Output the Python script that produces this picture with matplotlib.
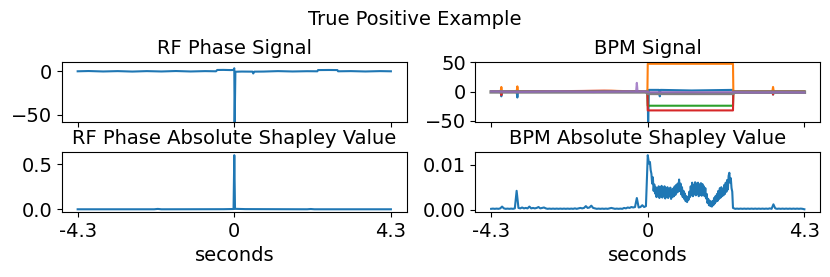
import matplotlib
matplotlib.use('Agg')
import matplotlib.pyplot as plt
import numpy as np

plt.rcParams['font.size'] = 14
plt.rcParams['axes.titlesize'] = 14

# x ticks shared by all panels
tick_pos = [-4.3, 0, 4.3]
tick_lab = ['-4.3', '0', '4.3']

# RF phase signal (breakpoints, seconds / degrees)
rf_t = [-4.3, -4.0, -3.6, -3.2, -2.8, -2.4, -2.0, -1.6, -1.2, -0.8, -0.5, -0.47, -0.3,
        -0.1, -0.02, 0.0, 0.01, 0.03, 0.2, 0.5, 0.52, 0.55, 0.8, 1.2, 1.6, 2.0, 2.28,
        2.3, 2.6, 2.83, 2.85, 3.2, 3.6, 4.0, 4.3]
rf_v = [0.0, 0.3, -0.2, 0.2, -0.3, 0.2, -0.2, 0.3, -0.2, 0.2, 0.0, 1.5, 1.6,
        1.4, 1.5, 3.5, -62.0, -0.5, -0.3, -0.4, -2.5, -0.4, -0.3, 0.2, -0.2, 0.1, 0.0,
        1.4, 1.5, 1.4, 0.0, 0.2, -0.2, 0.2, 0.0]

# RF phase absolute Shapley value
rfs_t = [-4.3, -2.2, -2.1, -2.0, -0.3, -0.02, 0.0, 0.02, 0.3, 2.0, 2.1, 2.2, 4.3]
rfs_v = [0.002, 0.002, 0.006, 0.002, 0.003, 0.005, 0.6, 0.007, 0.004, 0.002, 0.005, 0.002, 0.002]

# BPM signals (breakpoints)
bpm_blue_t = [-4.3, -4.04, -4.02, -4.0, -3.6, -3.58, -3.56, -1.5, -0.02, 0.0, 0.01, 0.03,
              0.31, 0.33, 0.35, 1.2, 2.34, 2.36, 3.42, 3.44, 3.46, 4.3]
bpm_blue_v = [0.0, 0.0, -8.0, 0.0, 0.0, -10.0, 0.0, 1.0, 0.0, 3.0, -62.0, 3.0,
              3.0, -8.0, 3.0, 2.0, 3.0, 0.0, 0.0, -5.0, 0.0, 0.0]
bpm_orange_t = [-4.3, -4.04, -4.02, -4.0, -3.6, -3.58, -3.56, -1.0, -0.01, 0.0, 2.34, 2.35,
                3.42, 3.44, 3.46, 4.3]
bpm_orange_v = [0.0, 0.0, 8.0, 0.0, 0.0, 9.0, 0.0, 1.5, 0.0, 47.5, 47.5, 0.0,
                0.0, 8.0, 0.0, 0.0]
bpm_green_t = [-4.3, -0.01, 0.0, 2.34, 2.35, 4.3]
bpm_green_v = [0.0, 0.0, -24.0, -24.0, 0.0, 0.0]
bpm_red_t = [-4.3, -4.04, -4.02, -4.0, -1.2, -0.01, 0.0, 2.34, 2.35, 3.42, 3.44, 3.46, 4.3]
bpm_red_v = [0.0, 0.0, -6.0, 0.0, 1.5, 0.0, -32.0, -32.0, 0.0, 0.0, -5.0, 0.0, 0.0]
bpm_purple_t = [-4.3, -3.5, -2.5, -1.5, -0.5, -0.32, -0.3, -0.28, -0.1, 0.05, 0.8, 1.6, 2.3,
                2.4, 3.0, 3.6, 4.3]
bpm_purple_v = [0.5, -0.5, 0.6, -0.6, 0.4, 0.0, 15.0, 0.0, 0.5, -1.0, -0.8, -1.0, -0.8,
                -1.0, -1.5, -1.0, -1.5]
bpm_gray_t = [-4.3, -2.0, -0.02, 0.0, 2.34, 2.36, 4.3]
bpm_gray_v = [-0.5, -0.5, -0.5, -3.0, -3.0, -1.0, -1.0]

# BPM absolute Shapley value
# before the event, every 0.05 s from -4.3 to -0.05
shap_pre = [
    0.0002, 0.00025, 0.0002, 0.00025, 0.0002, 0.0003, 0.0007, 0.0003, 0.0002, 0.00025,
    0.0002, 0.00025, 0.0002, 0.0003, 0.0042, 0.0004, 0.0003, 0.0005, 0.0003, 0.0004,
    0.0003, 0.0007, 0.0003, 0.0004, 0.0003, 0.0004, 0.0006, 0.0003, 0.0004, 0.0005,
    0.0003, 0.0002, 0.00025, 0.0002, 0.00025, 0.0002, 0.00025, 0.0002, 0.00025, 0.0002,
    0.00025, 0.0002, 0.00025, 0.0002, 0.00025, 0.0002, 0.0003, 0.0002, 0.0003, 0.0004,
    0.0003, 0.0004, 0.0008, 0.0004, 0.0005, 0.0009, 0.0004, 0.0003, 0.0002, 0.00025,
    0.0002, 0.00025, 0.0002, 0.00025, 0.0002, 0.0003, 0.0004, 0.0003, 0.0002, 0.00025,
    0.0002, 0.00025, 0.0002, 0.0004, 0.0003, 0.0005, 0.0004, 0.0006, 0.0005, 0.0006,
    0.0026, 0.0005, 0.0006, 0.0010, 0.0006, 0.0008,
]
# during the event, every 0.02 s from 0 to 2.34
shap_evt = [
    0.0121, 0.0110, 0.0102, 0.0106, 0.0088, 0.0080, 0.0058, 0.0072, 0.0042, 0.0056,
    0.0036, 0.0050, 0.0028, 0.0047, 0.0030, 0.0052, 0.0026, 0.0049, 0.0031, 0.0053,
    0.0027, 0.0045, 0.0030, 0.0052, 0.0025, 0.0048, 0.0029, 0.0050, 0.0026, 0.0046,
    0.0030, 0.0049, 0.0024, 0.0044, 0.0028, 0.0047, 0.0030, 0.0052, 0.0033, 0.0055,
    0.0038, 0.0058, 0.0040, 0.0067, 0.0042, 0.0058, 0.0034, 0.0050, 0.0028, 0.0042,
    0.0024, 0.0036, 0.0019, 0.0030, 0.0017, 0.0028, 0.0022, 0.0040, 0.0028, 0.0052,
    0.0032, 0.0060, 0.0030, 0.0055, 0.0034, 0.0061, 0.0032, 0.0058, 0.0035, 0.0060,
    0.0030, 0.0056, 0.0033, 0.0059, 0.0031, 0.0057, 0.0034, 0.0052, 0.0030, 0.0048,
    0.0025, 0.0035, 0.0015, 0.0024, 0.0010, 0.0020, 0.0008, 0.0018, 0.0007, 0.0019,
    0.0010, 0.0026, 0.0014, 0.0030, 0.0018, 0.0035, 0.0020, 0.0042, 0.0024, 0.0048,
    0.0027, 0.0050, 0.0030, 0.0046, 0.0032, 0.0055, 0.0035, 0.0060, 0.0040, 0.0066,
    0.0045, 0.0075, 0.0082, 0.0060, 0.0070, 0.0048, 0.0040, 0.0004,
]
# after the event, every 0.05 s from 2.4 to 4.3
shap_post = [
    0.0002, 0.00025, 0.0002, 0.00025, 0.0002, 0.00025, 0.0002, 0.00025, 0.0002, 0.00025,
    0.0002, 0.00025, 0.0002, 0.00025, 0.0002, 0.00025, 0.0002, 0.00025, 0.0002, 0.0003,
    0.0002, 0.0012, 0.0003, 0.0002, 0.00025, 0.0002, 0.00025, 0.0002, 0.00025, 0.0002,
    0.00025, 0.0002, 0.00025, 0.0002, 0.00025, 0.0002, 0.00025, 0.0002, 0.0001,
]
shap_t = np.concatenate([np.linspace(-4.3, -0.05, len(shap_pre)),
                         np.linspace(0.0, 2.34, len(shap_evt)),
                         np.linspace(2.4, 4.3, len(shap_post))])
shap_v = shap_pre + shap_evt + shap_post

fig, axs = plt.subplots(2, 2, figsize=(8.3, 2.77), dpi=100, sharex='col')
fig.subplots_adjust(left=0.0747, right=0.988, top=0.776, bottom=0.2347,
                    wspace=0.2, hspace=0.52)
fig.suptitle('True Positive Example', fontsize=14, y=0.965)

ax = axs[0, 0]
ax.plot(rf_t, rf_v, color='tab:blue')
ax.set_ylim(-57.6, 10.6)
ax.set_title('RF Phase Signal')

ax = axs[1, 0]
ax.plot(rfs_t, rfs_v, color='tab:blue')
ax.set_title('RF Phase Absolute Shapley Value')
ax.set_xlabel('seconds')

ax = axs[0, 1]
ax.plot(bpm_blue_t, bpm_blue_v, color='tab:blue')
ax.plot(bpm_orange_t, bpm_orange_v, color='tab:orange')
ax.plot(bpm_green_t, bpm_green_v, color='tab:green')
ax.plot(bpm_red_t, bpm_red_v, color='tab:red')
ax.plot(bpm_gray_t, bpm_gray_v, color='tab:gray', lw=2.5)
ax.plot(bpm_purple_t, bpm_purple_v, color='tab:purple', alpha=0.8)
ax.set_ylim(-51, 50.5)
ax.set_yticks([-50, 0, 50])
ax.set_title('BPM Signal')

ax = axs[1, 1]
ax.plot(shap_t, shap_v, color='tab:blue')
ax.set_title('BPM Absolute Shapley Value')
ax.set_xlabel('seconds')

for ax in axs[1]:
    ax.set_xticks(tick_pos)
    ax.set_xticklabels(tick_lab)

fig.savefig('out.png')
